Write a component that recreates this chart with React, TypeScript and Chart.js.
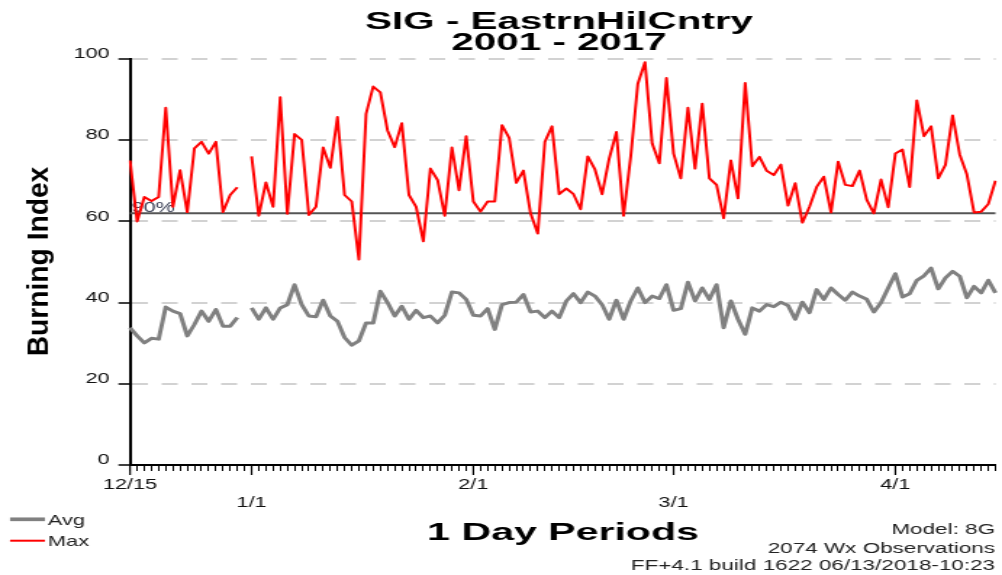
import React, { useEffect, useRef } from "react";
import { Chart, registerables } from "chart.js";

Chart.register(...registerables);

// ---------- data ----------
const chartTitle = ["SIG - EastrnHilCntry", "2001 - 2017"];
const xAxisTitle = "1 Day Periods";
const yAxisTitle = "Burning Index";
const footnotes = ["Model: 8G", "2074 Wx Observations", "FF+4.1 build 1622 06/13/2018-10:23"];

const periodMonths = [12, 1, 2, 3, 4];
const periodFirstDays = [15, 1, 1, 1, 1];
const periodLastDays = [31, 31, 28, 31, 15];

const tickLabels = ["12/15", "1/1", "2/1", "3/1", "4/1"];
const tickRows = [0, 1, 0, 1, 0];
const yTicks = [0, 20, 40, 60, 80, 100];

const refLineValue = 62;
const refLineLabel = "90%";

const seriesNames = ["Avg", "Max"];
const seriesColors = ["#808080", "#ff0000"];

const avgValues: (number | null)[] = [
  33.8, 31.8, 30.1, 31.2, 31.0, 38.9, 37.9, 37.3, 31.8, 34.6, 37.9, 35.4, 38.3, 34.2, 34.2, 36.3, null,
  38.7, 35.9, 38.7, 35.9, 38.7, 39.5, 44.4, 39.5, 36.7, 36.5, 40.6, 36.7, 35.4, 31.4, 29.5, 30.6,
  35.0, 35.0, 42.8, 40.0, 36.7, 39.1, 35.9, 38.1, 36.3, 36.7, 35.0, 36.9, 42.6, 42.4, 40.8,
  36.9, 36.7, 38.5, 33.4, 39.5, 40.0, 40.1, 42.0, 37.7, 37.9, 36.3, 37.9, 36.3, 40.4, 42.2, 40.0,
  42.6, 41.6, 39.5, 35.9, 40.6, 35.9, 40.4, 43.6, 40.0, 41.6, 41.0, 44.4,
  38.1, 38.5, 45.0, 40.4, 43.6, 40.8, 44.4, 33.8, 40.4, 35.9, 32.2, 38.7, 37.9, 39.5, 39.0, 40.1,
  39.3, 35.9, 40.1, 37.5, 43.2, 40.8, 43.6, 42.0, 40.6, 42.6, 41.6, 40.8, 37.7, 40.0, 43.6,
  47.1, 41.4, 42.2, 45.5, 46.6, 48.5, 43.4, 46.1, 47.7, 46.5, 41.2, 44.0, 42.4, 45.5, 42.4,
];

const maxValues: (number | null)[] = [
  75.0, 60.0, 66.0, 65.0, 66.0, 88.0, 63.6, 72.6, 62.3, 78.0, 79.6, 76.7, 79.6, 62.3, 66.5, 68.4, null,
  76.0, 61.4, 69.6, 63.6, 90.6, 61.9, 81.5, 80.1, 61.6, 63.6, 78.2, 73.2, 85.7, 66.5, 64.9, 50.6,
  86.5, 93.2, 91.8, 82.4, 78.3, 84.2, 66.5, 63.6, 55.1, 73.0, 70.2, 61.4, 78.2, 67.7, 81.0,
  64.9, 62.4, 64.9, 64.9, 83.7, 80.6, 69.5, 72.5, 62.0, 57.0, 79.6, 83.4, 66.7, 68.1, 66.7, 63.0,
  76.0, 72.8, 66.7, 75.5, 82.0, 61.4, 76.0, 93.9, 99.2, 79.2, 74.3, 95.3,
  76.7, 70.6, 88.0, 73.0, 89.0, 70.6, 69.0, 60.8, 75.0, 65.7, 94.1, 73.6, 75.9, 72.5, 71.4, 74.0,
  63.9, 69.4, 59.7, 63.6, 68.5, 71.0, 62.2, 74.7, 69.0, 68.7, 72.5, 65.3, 62.0, 70.3, 63.5,
  76.7, 77.7, 68.5, 89.8, 81.0, 83.4, 70.6, 73.9, 86.1, 76.5, 71.6, 62.2, 62.4, 64.3, 70.0,
];

// day categories
const dayLabels: string[] = [];
for (let p = 0; p < periodMonths.length; p++) {
  for (let d = periodFirstDays[p]; d <= periodLastDays[p]; d++) dayLabels.push(`${periodMonths[p]}/${d}`);
}

// ---------- layout (canvas is drawn narrow and stretched horizontally, like the reference) ----------
const SX = 1.45;
const OUT_W = 1002;
const OUT_H = 575;
const CW = Math.round(OUT_W / SX);
const ix = (x: number) => x / SX;

const PLOT_LEFT = ix(130);
const PLOT_RIGHT = ix(997);
const PLOT_TOP = 59;
const PLOT_BOTTOM = 465;

const SANS = "'Liberation Sans', Arial, sans-serif";

function drawStretchedText(
  ctx: CanvasRenderingContext2D,
  text: string,
  x: number,
  y: number,
  font: string,
  scaleX: number,
  align: CanvasTextAlign,
  color: string,
  rotate = 0
) {
  ctx.save();
  ctx.translate(x, y);
  if (rotate) ctx.rotate(rotate);
  ctx.scale(scaleX, 1);
  ctx.font = font;
  ctx.fillStyle = color;
  ctx.textAlign = align;
  ctx.textBaseline = "alphabetic";
  ctx.fillText(text, 0, 0);
  ctx.restore();
}

const refLinePlugin = {
  id: "refLine",
  beforeDatasetsDraw(chart: any) {
    const { ctx, chartArea, scales } = chart;
    const y = scales.y.getPixelForValue(refLineValue);
    ctx.save();
    ctx.strokeStyle = "#555555";
    ctx.lineWidth = 2;
    ctx.beginPath();
    ctx.moveTo(chartArea.left, y);
    ctx.lineTo(chartArea.right, y);
    ctx.stroke();
    ctx.font = `15px ${SANS}`;
    ctx.fillStyle = "#3a3f55";
    ctx.textAlign = "left";
    ctx.textBaseline = "alphabetic";
    ctx.fillText(refLineLabel, chartArea.left + 1, y - 1);
    ctx.restore();
  },
};

const decorPlugin = {
  id: "decor",
  afterDraw(chart: any) {
    const { ctx, scales, chartArea } = chart;
    // longer month tick marks
    ctx.save();
    ctx.strokeStyle = "#000";
    ctx.lineWidth = 1.2;
    tickLabels.forEach((lab) => {
      const idx = dayLabels.indexOf(lab);
      if (idx < 0) return;
      const x = scales.x.getPixelForValue(idx);
      ctx.beginPath();
      ctx.moveTo(x, chartArea.bottom);
      ctx.lineTo(x, chartArea.bottom + 10);
      ctx.stroke();
    });
    ctx.restore();

    // title
    drawStretchedText(ctx, chartTitle[0], ix(559), 28.5, `bold 23px ${SANS}`, 1.21, "center", "#000");
    drawStretchedText(ctx, chartTitle[1], ix(559), 50, `bold 23px ${SANS}`, 1.21, "center", "#000");
    // x title
    drawStretchedText(ctx, xAxisTitle, ix(563), 540, `bold 24px ${SANS}`, 1.18, "center", "#000");
    // y title (rotated)
    drawStretchedText(ctx, yAxisTitle, ix(48), 261.5, `bold 20px ${SANS}`, 1.41, "center", "#000", -Math.PI / 2);

    // legend
    const legendY = [519.3, 540.7];
    const legendW = [3.7, 2];
    const legendBase = [525, 546];
    ctx.save();
    seriesNames.forEach((name, i) => {
      ctx.strokeStyle = seriesColors[i];
      ctx.lineWidth = legendW[i];
      ctx.beginPath();
      ctx.moveTo(ix(10), legendY[i]);
      ctx.lineTo(ix(45), legendY[i]);
      ctx.stroke();
      ctx.font = `15px ${SANS}`;
      ctx.fillStyle = "#222";
      ctx.textAlign = "left";
      ctx.textBaseline = "alphabetic";
      ctx.fillText(name, ix(48), legendBase[i]);
    });
    ctx.restore();

    // footnotes
    const footBase = [534, 553, 570];
    footnotes.forEach((t, i) => {
      drawStretchedText(ctx, t, ix(995), footBase[i], `15.5px ${SANS}`, 1, "right", "#222");
    });
  },
};

export default function App() {
  const canvasRef = useRef<HTMLCanvasElement | null>(null);

  useEffect(() => {
    const canvas = canvasRef.current;
    if (!canvas) return;
    const chart = new Chart(canvas, {
      type: "line",
      data: {
        labels: dayLabels,
        datasets: [
          {
            label: seriesNames[0],
            data: avgValues,
            borderColor: seriesColors[0],
            borderWidth: 3,
            pointRadius: 0,
            tension: 0,
            spanGaps: false,
            borderJoinStyle: "round",
          },
          {
            label: seriesNames[1],
            data: maxValues,
            borderColor: seriesColors[1],
            borderWidth: 2,
            pointRadius: 0,
            tension: 0,
            spanGaps: false,
            borderJoinStyle: "round",
          },
        ],
      },
      options: {
        animation: false,
        responsive: false,
        devicePixelRatio: 1,
        maintainAspectRatio: false,
        events: [],
        layout: {
          padding: { top: PLOT_TOP, right: CW - PLOT_RIGHT, bottom: 0, left: 0 },
        },
        plugins: {
          legend: { display: false },
          title: { display: false },
          tooltip: { enabled: false },
        },
        scales: {
          x: {
            type: "category",
            offset: false,
            afterFit: (s: any) => {
              s.height = OUT_H - PLOT_BOTTOM;
            },
            border: { display: true, color: "#000", width: 2 },
            grid: {
              display: true,
              drawOnChartArea: false,
              drawTicks: true,
              tickLength: 6,
              tickColor: "#000",
              tickWidth: 1,
            },
            ticks: {
              autoSkip: false,
              maxRotation: 0,
              minRotation: 0,
              padding: 4.5,
              color: "#111",
              font: { family: SANS, size: 15, lineHeight: 1.2 },
              callback: (_v: any, idx: number) => {
                const lab = dayLabels[idx];
                const k = tickLabels.indexOf(lab);
                if (k < 0) return "";
                return tickRows[k] ? ["", lab] : lab;
              },
            },
          },
          y: {
            type: "linear",
            min: yTicks[0],
            max: yTicks[yTicks.length - 1],
            afterFit: (s: any) => {
              s.width = PLOT_LEFT;
            },
            afterBuildTicks: (s: any) => {
              s.ticks = yTicks.map((v) => ({ value: v }));
            },
            border: { display: true, color: "#000", width: 2, dash: [11, 9.5] },
            grid: {
              color: (c: any) => (c.tick && c.tick.value === 0 ? "rgba(0,0,0,0)" : "#d2d2d2"),
              lineWidth: 2,
              drawTicks: true,
              tickLength: 8,
              tickColor: "#000",
              tickWidth: 1.5,
            },
            ticks: {
              padding: 6,
              labelOffset: -5,
              color: "#111",
              font: { family: SANS, size: 15 },
            },
          },
        },
      },
      plugins: [refLinePlugin, decorPlugin],
    } as any);
    return () => chart.destroy();
  }, []);

  return (
    <div style={{ position: "fixed", left: 0, top: 0, width: OUT_W, height: OUT_H, background: "#fff" }}>
      <canvas
        ref={canvasRef}
        width={CW}
        height={OUT_H}
        style={{ width: `${OUT_W}px`, height: `${OUT_H}px`, display: "block" }}
      />
    </div>
  );
}
